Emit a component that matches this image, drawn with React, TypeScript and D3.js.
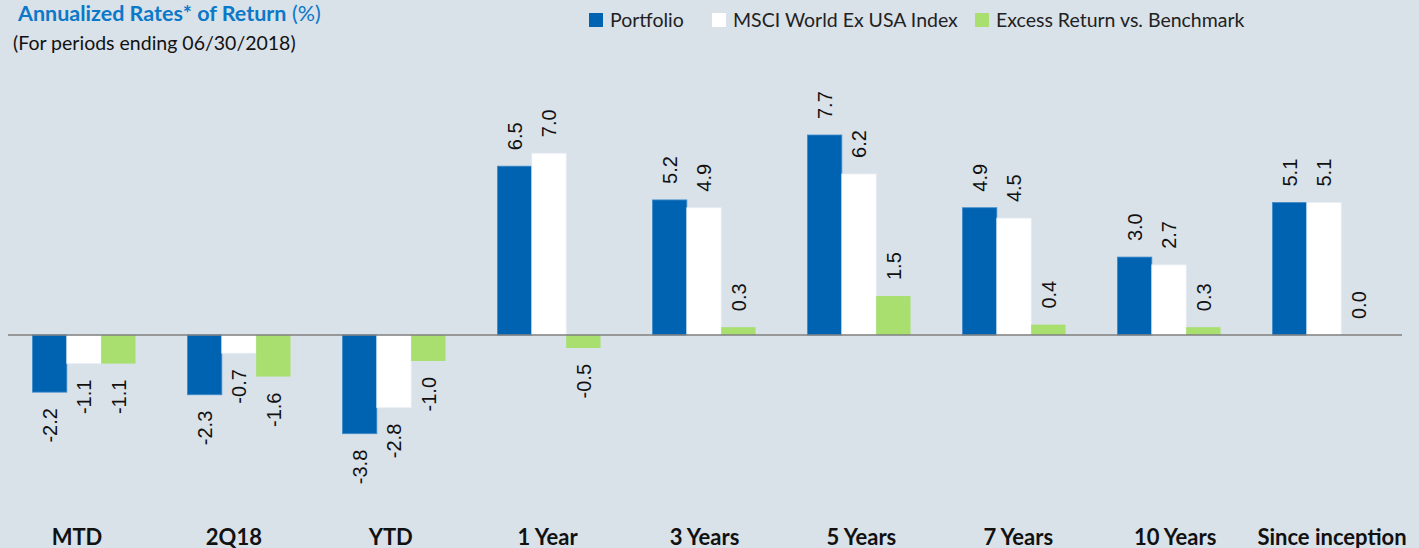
import React from "react";
import * as d3 from "d3";

const categories = ["MTD", "2Q18", "YTD", "1 Year", "3 Years", "5 Years", "7 Years", "10 Years", "Since inception"];
const seriesNames = ["Portfolio", "MSCI World Ex USA Index", "Excess Return vs. Benchmark"];
const portfolio = [-2.2, -2.3, -3.8, 6.5, 5.2, 7.7, 4.9, 3.0, 5.1];
const benchmark = [-1.1, -0.7, -2.8, 7.0, 4.9, 6.2, 4.5, 2.7, 5.1];
const excess = [-1.1, -1.6, -1.0, -0.5, 0.3, 1.5, 0.4, 0.3, 0.0];
const colors = ["#0063b1", "#ffffff", "#a8df6e"];

const W = 1419;
const H = 548;
const BG = "#d9e1e9";
const LABEL_FONT = "'Liberation Sans', Arial, sans-serif";
const TEXT_FONT = "Lato, 'Open Sans', sans-serif";

export default function App() {
  const series = [portfolio, benchmark, excess];
  const x0 = d3.scaleBand<string>().domain(categories).range([6.5, 1401.5]).paddingInner(0.335).paddingOuter(0.1675);
  const x1 = d3.scaleBand<number>().domain([0, 1, 2]).range([0, x0.bandwidth()]).padding(0);
  const xLab = d3.scalePoint<string>().domain(categories).range([77, 1332]);
  const y = d3.scaleLinear().domain([0, 7.7]).range([335, 135]);

  const legendX = [589, 712, 975];

  return (
    <svg width={W} height={H} style={{ position: "absolute", left: 0, top: 0, display: "block", background: BG }}>
      <rect x={0} y={0} width={W} height={H} fill={BG} />
      <text x={18} y={21} fontFamily={TEXT_FONT} fontSize={21.5} fill="#0b78c8">
        <tspan fontWeight="bold">Annualized Rates* of Return</tspan>
        <tspan> (%)</tspan>
      </text>
      <text x={13} y={50} fontFamily={TEXT_FONT} fontSize={19.5} fill="#111">(For periods ending 06/30/2018)</text>

      {seriesNames.map((n, i) => (
        <g key={n}>
          <rect x={legendX[i]} y={13} width={14} height={14} fill={colors[i]} />
          <text x={legendX[i] + 21} y={27} fontFamily={TEXT_FONT} fontSize={19.5} fill="#222">{n}</text>
        </g>
      ))}

      {categories.map((c, ci) => (
        <g key={c} transform={`translate(${x0(c)},0)`}>
          {series.map((s, si) => {
            const v = s[ci];
            const top = y(Math.max(0, v));
            const h = Math.abs(y(v) - y(0));
            const cx = (x1(si) as number) + x1.bandwidth() / 2;
            const pos = v >= 0;
            const ly = pos ? y(v) - 16 : y(v) + 16;
            return (
              <g key={si}>
                {h > 0 && (
                  <rect x={x1(si)} y={top} width={x1.bandwidth()} height={h} fill={colors[si]}
                    stroke={si === 0 ? "#3f8bc9" : si === 1 ? "#e8eef4" : "none"} strokeWidth={0.8} />
                )}
                <text transform={`translate(${cx},${ly}) rotate(-90)`} textAnchor={pos ? "start" : "end"}
                  dy="0.36em" fontFamily={LABEL_FONT} fontSize={20} fill="#111">{v.toFixed(1)}</text>
              </g>
            );
          })}
        </g>
      ))}

      <line x1={8} x2={1402} y1={y(0)} y2={y(0)} stroke="#7f7f7f" strokeWidth={1.5} />

      {categories.map((c) => (
        <text key={c} x={xLab(c)} y={545} textAnchor="middle" fontFamily={TEXT_FONT} fontWeight="bold" fontSize={22} fill="#111">{c}</text>
      ))}
    </svg>
  );
}
